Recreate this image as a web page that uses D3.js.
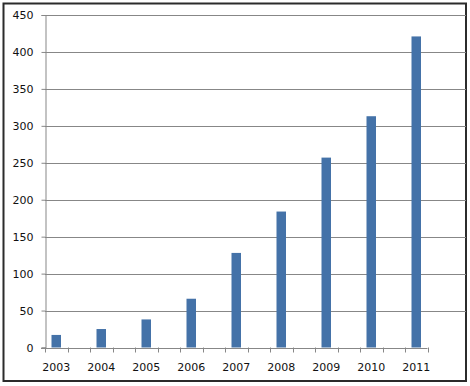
<!DOCTYPE html>
<html>
<head>
<meta charset="utf-8">
<script src="https://cdn.jsdelivr.net/npm/d3@7"></script>
<style>
  body { margin: 0; background: #fff; }
  svg { display: block; }
  .tick text { font-family: "DejaVu Sans", Verdana, sans-serif; font-size: 11px; fill: #111; }
</style>
</head>
<body>
<div id="chart"></div>
<script>
// chart data
var years = ["2003", "2004", "2005", "2006", "2007", "2008", "2009", "2010", "2011"];
var counts = [17, 25, 38, 66, 128, 184, 257, 313, 421];
var yTicks = [0, 50, 100, 150, 200, 250, 300, 350, 400, 450];

var width = 470, height = 386;
// note: can't call it "top", that's window.top
var plotLeft = 45, plotRight = 427.5, gridRight = 466, plotTop = 15, plotBottom = 347.5;
var axisGrey = "#878787";

var svg = d3.select("#chart").append("svg")
    .attr("width", width)
    .attr("height", height);

// outer frame
svg.append("rect")
    .attr("x", 3.5).attr("y", 3.5)
    .attr("width", 462.5).attr("height", 377.5)
    .attr("fill", "#fff")
    .attr("stroke", "#2b2b2b")
    .attr("stroke-width", 2);

// the excel sheet had an empty category between each year, so interleave blank slots
var slots = [];
years.forEach(function (yr, i) {
    slots.push(yr);
    if (i < years.length - 1) slots.push("gap" + i);
});

var x = d3.scaleBand().domain(slots).range([plotLeft, plotRight]);
var y = d3.scaleLinear().domain([0, 450]).range([plotBottom, plotTop]);

// horizontal gridlines (they run right up to the frame)
svg.append("g")
    .selectAll("line")
    .data(yTicks.filter(function (d) { return d > 0; }))
    .enter().append("line")
    .attr("x1", plotLeft).attr("x2", gridRight)
    .attr("y1", function (d) { return Math.round(y(d)) + 0.5; })
    .attr("y2", function (d) { return Math.round(y(d)) + 0.5; })
    .attr("stroke", axisGrey)
    .attr("stroke-width", 1);

// bars
var barW = 9.5;
svg.append("g")
    .selectAll("rect")
    .data(years)
    .enter().append("rect")
    .attr("x", function (d) { return x(d) + x.bandwidth() / 2 - barW / 2; })
    .attr("y", function (d, i) { return y(counts[i]); })
    .attr("width", barW)
    .attr("height", function (d, i) { return y(0) - y(counts[i]); })
    .attr("fill", "#4472a8");

// y axis
var yAxis = svg.append("g")
    .attr("transform", "translate(" + (plotLeft + 0.5) + ",0)")
    .call(d3.axisLeft(y).tickValues(yTicks).tickSize(4).tickPadding(8).tickFormat(d3.format("d")));
yAxis.select(".domain").attr("stroke", axisGrey);
yAxis.selectAll(".tick line").attr("stroke", axisGrey);

// x axis line and tick marks between categories
var xg = svg.append("g");
xg.append("line")
    .attr("x1", plotLeft - 4).attr("x2", plotRight)
    .attr("y1", Math.round(plotBottom) + 0.5).attr("y2", Math.round(plotBottom) + 0.5)
    .attr("stroke", axisGrey);

var bounds = slots.map(function (s) { return x(s); }).concat([plotRight]);
xg.selectAll(".xt")
    .data(bounds)
    .enter().append("line")
    .attr("class", "xt")
    .attr("x1", function (d) { return Math.round(d) + 0.5; })
    .attr("x2", function (d) { return Math.round(d) + 0.5; })
    .attr("y1", plotBottom).attr("y2", plotBottom + 5)
    .attr("stroke", axisGrey);

xg.selectAll("text")
    .data(years)
    .enter().append("text")
    .attr("x", function (d) { return x(d) + x.bandwidth() / 2; })
    .attr("y", 371)
    .attr("text-anchor", "middle")
    .style("font-family", "'DejaVu Sans', Verdana, sans-serif")
    .style("font-size", "11px")
    .style("fill", "#111")
    .text(function (d) { return d; });
</script>
</body>
</html>
